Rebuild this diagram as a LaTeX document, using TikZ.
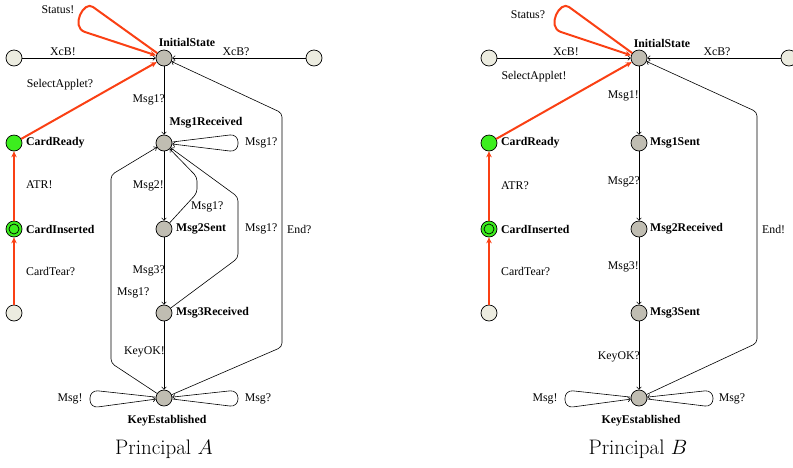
\documentclass[tikz,border=0pt]{standalone}
\usepackage{fontspec}
\newfontfamily\tms{Liberation Serif}
\usetikzlibrary{arrows.meta}
\definecolor{stgray}{RGB}{192,189,178}
\definecolor{stbeige}{RGB}{236,236,224}
\definecolor{stgreen}{RGB}{60,238,30}
\definecolor{edred}{RGB}{250,64,20}
\tikzset{
 st/.style={circle, draw, line width=0.7pt, minimum size=16pt, inner sep=0pt, fill=stgray},
 bst/.style={st, fill=stbeige},
 gst/.style={st, fill=stgreen},
 lbl/.style={font=\tms\fontsize{11.8}{13}\selectfont, inner sep=0pt},
 blbl/.style={font=\tms\bfseries\fontsize{11.8}{13}\selectfont, inner sep=0pt},
 ed/.style={draw, line width=0.6pt, -{To[length=3pt,width=5pt]}, rounded corners=4pt},
 lp/.style={ed, rounded corners=8pt},
 redge/.style={draw=edred, line width=2pt, -{Stealth[length=6pt,width=5.5pt]}, rounded corners=7pt},
 ttl/.style={font=\fontsize{21}{24}\selectfont, inner sep=0pt}
}
\begin{document}
\begin{tikzpicture}[x=1pt,y=-1pt]
\useasboundingbox (0,0) rectangle (793,467);
% ---------------- Principal A ----------------
\node[bst] (axl) at (14,58) {};
\node[st]  (ainit) at (164,58) {};
\node[bst] (axr) at (314,58) {};
\node[gst] (acr) at (14,143) {};
\node[gst] (aci) at (14,229) {};
\draw[line width=0.7pt] (aci.center) circle (5pt);
\node[bst] (acb) at (14,313) {};
\node[st]  (am1) at (164,143) {};
\node[st]  (am2) at (164,229) {};
\node[st]  (am3) at (164,313) {};
\node[st]  (ake) at (164,398) {};

\draw[ed] (axl) -- (ainit);
\draw[ed] (axr) -- (ainit);
\draw[ed] (ainit) -- (am1);
\draw[ed] (am1) -- (am2);
\draw[ed] (am2) -- (am3);
\draw[ed] (am3) -- (ake);
\draw[lp] (am1) -- (238,134) -- (238,152) -- (am1);
\draw[ed] (am2) -- (197,193) -- (197,177) -- (am1);
\draw[ed] (am3) -- (238,258) -- (238,197) -- (am1);
\draw[ed] (ake) -- (111,363) -- (111,175) -- (am1);
\draw[ed] (ake) -- (282,347) -- (282,113) -- (ainit);
\draw[lp] (ake) -- (90,390) -- (90,408) -- (ake);
\draw[lp] (ake) -- (238,407) -- (238,390) -- (ake);

\draw[redge] (acb) -- (aci);
\draw[redge] (aci) -- (acr);
\draw[redge] (acr) -- (ainit);
\draw[redge, sharp corners] (ainit) -- (93,7) .. controls (84,0) and (70,27) .. (85,32) -- (ainit);

\node[lbl] (laStatus) at (58,10) {Status!};
\node[lbl] (laXl) at (63,52) {XcB!};
\node[lbl] (laXr) at (236,52) {XcB?};
\node[blbl] (laInit) at (187,42) {InitialState};
\node[lbl] (laSel) at (60,85) {SelectApplet?};
\node[lbl, anchor=east] (laM1a) at (165,100) {Msg1?};
\node[blbl] (laM1) at (206,123) {Msg1Received};
\node[blbl, anchor=west] (laCR) at (26,143) {CardReady};
\node[lbl, anchor=west] (laLoop) at (245,143) {Msg1?};
\node[lbl, anchor=west] (laATR) at (26,185) {ATR!};
\node[lbl, anchor=east] (laM2a) at (164,186) {Msg2!};
\node[lbl, anchor=west] (laM1b) at (191,207) {Msg1?};
\node[blbl, anchor=west] (laCI) at (26,229) {CardInserted};
\node[blbl, anchor=west] (laM2) at (176,229) {Msg2Sent};
\node[lbl, anchor=west] (laM1c) at (245,229) {Msg1?};
\node[lbl, anchor=west] (laEnd) at (287,229) {End?};
\node[lbl, anchor=west] (laTear) at (26,271) {CardTear?};
\node[lbl, anchor=east] (laM3a) at (165,271) {Msg3?};
\node[lbl, anchor=west] (laM1d) at (117,293) {Msg1?};
\node[blbl, anchor=west] (laM3) at (176,313) {Msg3Received};
\node[lbl, anchor=east] (laKey) at (165,352) {KeyOK!};
\node[lbl] (laMs) at (70,399) {Msg!};
\node[lbl] (laMr) at (258,399) {Msg?};
\node[blbl] (laKE) at (167,421) {KeyEstablished};
\node[ttl] (laTitle) at (164,449) {Principal $A$};

% ---------------- Principal B ----------------
\node[bst] (bxl) at (489,58) {};
\node[st]  (binit) at (639,58) {};
\node[bst] (bxr) at (789,58) {};
\node[gst] (bcr) at (489,143) {};
\node[gst] (bci) at (489,229) {};
\draw[line width=0.7pt] (bci.center) circle (5pt);
\node[bst] (bcb) at (489,313) {};
\node[st]  (bm1) at (639,143) {};
\node[st]  (bm2) at (639,229) {};
\node[st]  (bm3) at (639,313) {};
\node[st]  (bke) at (639,398) {};

\draw[ed] (bxl) -- (binit);
\draw[ed] (bxr) -- (binit);
\draw[ed] (binit) -- (bm1);
\draw[ed] (bm1) -- (bm2);
\draw[ed] (bm2) -- (bm3);
\draw[ed] (bm3) -- (bke);
\draw[ed] (bke) -- (757,343) -- (757,112) -- (binit);
\draw[lp] (bke) -- (565,390) -- (565,408) -- (bke);
\draw[lp] (bke) -- (713,407) -- (713,390) -- (bke);

\draw[redge] (bcb) -- (bci);
\draw[redge] (bci) -- (bcr);
\draw[redge] (bcr) -- (binit);
\draw[redge, sharp corners] (binit) -- (569,7) .. controls (560,0) and (546,27) .. (561,32) -- (binit);

\node[lbl] (lbStatus) at (528,15) {Status?};
\node[lbl] (lbXl) at (566,52) {XcB!};
\node[lbl] (lbXr) at (717,52) {XcB?};
\node[blbl] (lbInit) at (662,43) {InitialState};
\node[lbl] (lbSel) at (534,77) {SelectApplet!};
\node[lbl, anchor=east] (lbM1a) at (639,96) {Msg1!};
\node[blbl, anchor=west] (lbCR) at (501,143) {CardReady};
\node[blbl, anchor=west] (lbM1) at (650,143) {Msg1Sent};
\node[lbl, anchor=west] (lbATR) at (501,186) {ATR?};
\node[lbl, anchor=east] (lbM2a) at (640,182) {Msg2?};
\node[blbl, anchor=west] (lbCI) at (501,229) {CardInserted};
\node[blbl, anchor=west] (lbM2) at (650,229) {Msg2Received};
\node[lbl, anchor=west] (lbEnd) at (762,229) {End!};
\node[lbl, anchor=west] (lbTear) at (501,271) {CardTear?};
\node[lbl, anchor=east] (lbM3a) at (639,267) {Msg3!};
\node[blbl, anchor=west] (lbM3) at (650,313) {Msg3Sent};
\node[lbl, anchor=east] (lbKey) at (640,357) {KeyOK?};
\node[lbl] (lbMs) at (545,399) {Msg!};
\node[lbl] (lbMr) at (732,399) {Msg?};
\node[blbl] (lbKE) at (641,421) {KeyEstablished};
\node[ttl] (lbTitle) at (638,449) {Principal $B$};
\end{tikzpicture}
\end{document}
